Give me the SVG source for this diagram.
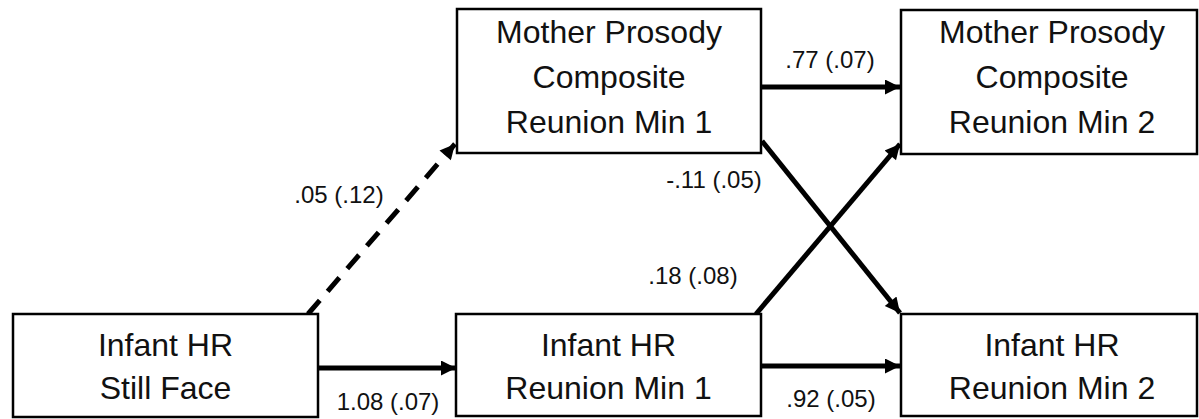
<svg xmlns="http://www.w3.org/2000/svg" width="1199" height="419" viewBox="0 0 1199 419">
  <style>
    .box { fill: #ffffff; stroke: #000000; stroke-width: 2.5; }
    .node-text { font-family: "Liberation Sans", Arial, sans-serif; font-size: 32px; fill: #111111; text-anchor: middle; }
    .label { font-family: "Liberation Sans", Arial, sans-serif; font-size: 24px; fill: #111111; text-anchor: middle; }
    .edge { stroke: #000000; stroke-width: 5; fill: none; }
    .dashed { stroke-dasharray: 18 12; }
  </style>
  <defs>
    <marker id="arrow" viewBox="0 0 10 10" refX="10" refY="5" markerUnits="userSpaceOnUse" markerWidth="17" markerHeight="15" orient="auto">
      <path d="M0,0 L10,5 L0,10 z" fill="#000000"/>
    </marker>
  </defs>

  <g id="connectors">
    <line class="edge dashed" x1="308" y1="314" x2="455" y2="144" marker-end="url(#arrow)"/>
    <line class="edge" x1="318" y1="368" x2="456" y2="368" marker-end="url(#arrow)"/>
    <line class="edge" x1="761" y1="87" x2="900" y2="87" marker-end="url(#arrow)"/>
    <line class="edge" x1="761" y1="366" x2="900" y2="366" marker-end="url(#arrow)"/>
    <line class="edge" x1="762" y1="141" x2="900" y2="313" marker-end="url(#arrow)"/>
    <line class="edge" x1="756" y1="314" x2="900" y2="144" marker-end="url(#arrow)"/>
    <text class="label" x="339" y="203">.05 (.12)</text>
    <text class="label" x="388" y="410">1.08 (.07)</text>
    <text class="label" x="830" y="68">.77 (.07)</text>
    <text class="label" x="714" y="188">-.11 (.05)</text>
    <text class="label" x="693" y="284">.18 (.08)</text>
    <text class="label" x="831" y="407">.92 (.05)</text>
  </g>

  <g id="infant-hr-still-face">
    <rect class="box" x="13" y="314" width="305" height="103"/>
    <text class="node-text" x="165.5" y="356">Infant HR</text>
    <text class="node-text" x="165.5" y="399">Still Face</text>
  </g>

  <g id="mother-prosody-min1">
    <rect class="box" x="457" y="9" width="304" height="144"/>
    <text class="node-text" x="609" y="43">Mother Prosody</text>
    <text class="node-text" x="609" y="88">Composite</text>
    <text class="node-text" x="609" y="133">Reunion Min 1</text>
  </g>

  <g id="mother-prosody-min2">
    <rect class="box" x="901" y="10" width="296" height="144"/>
    <text class="node-text" x="1052" y="43">Mother Prosody</text>
    <text class="node-text" x="1052" y="88">Composite</text>
    <text class="node-text" x="1052" y="133">Reunion Min 2</text>
  </g>

  <g id="infant-hr-min1">
    <rect class="box" x="456" y="314" width="305" height="102"/>
    <text class="node-text" x="608.5" y="356">Infant HR</text>
    <text class="node-text" x="608.5" y="399">Reunion Min 1</text>
  </g>

  <g id="infant-hr-min2">
    <rect class="box" x="901" y="314" width="296" height="102"/>
    <text class="node-text" x="1052" y="356">Infant HR</text>
    <text class="node-text" x="1052" y="399">Reunion Min 2</text>
  </g>
</svg>
